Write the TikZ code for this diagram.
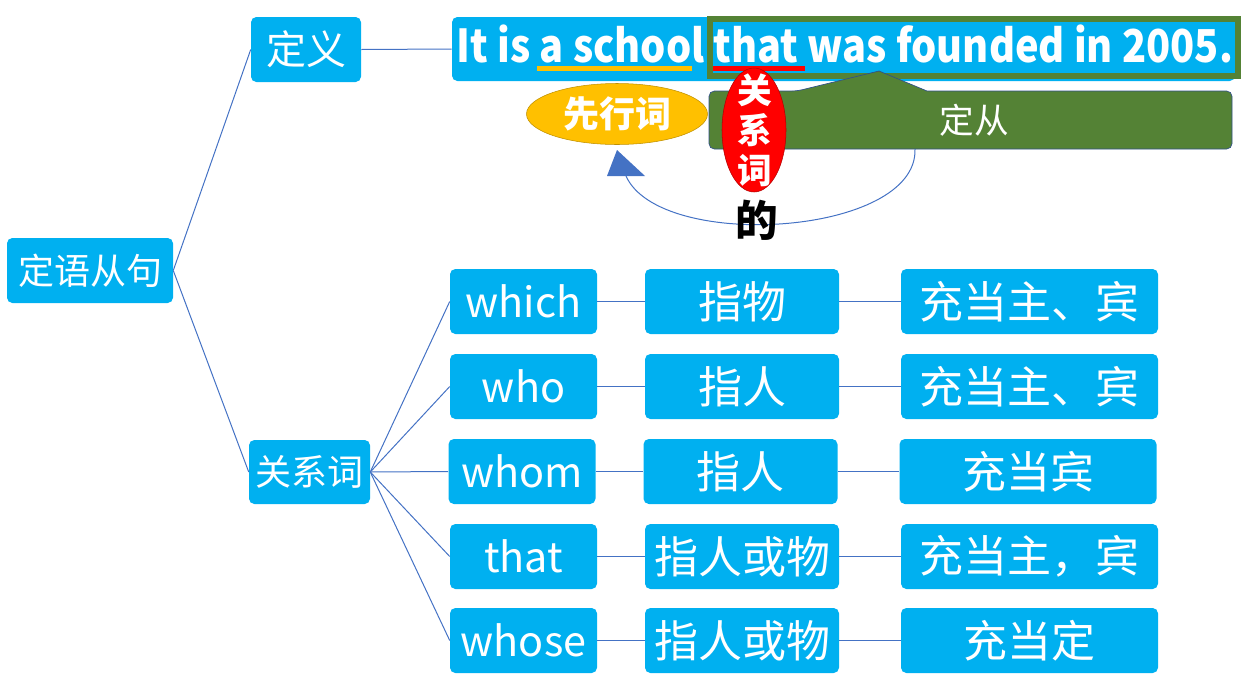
\documentclass[tikz,border=0pt]{standalone}
\usepackage{fontspec}
\setmainfont{Noto Sans CJK SC}
\usepackage{graphicx}
\usetikzlibrary{shapes.geometric}
\definecolor{boxblue}{HTML}{00B0F0}
\definecolor{linkblue}{HTML}{4472C4}
\definecolor{clausegreen}{HTML}{548235}
\definecolor{antegold}{HTML}{FFC000}
\newcommand\pxfont[1]{\fontsize{#1}{#1}\selectfont}

\tikzset{
  box/.style={fill=boxblue, text=white, rounded corners=4pt, inner sep=0pt},
  sz/.style 2 args={minimum width=#1*0.75pt, minimum height=#2*0.75pt},
  link/.style={linkblue, line width=0.75pt},
}

\begin{document}
\begin{tikzpicture}[x=0.75pt, y=-0.75pt]
	\useasboundingbox (0,0) rectangle (1246,697);

	% left tree
	\node [box, sz={166}{65}, font=\pxfont{27}] (root) at (90,270.5) {定语从句};
	\node [box, sz={110}{65}, font=\pxfont{30}] (dingyi) at (306,49.5) {定义};
	\node [box, sz={121}{64}, font=\pxfont{27}] (guanxi) at (309.5,472) {关系词};
	\node [box, sz={783}{64}] (sent) at (843.5,49) {};

	\draw [link] (root.east) -- (dingyi.west);
	\draw [link] (root.east) -- (guanxi.west);
	\draw [link] (dingyi.east) -- (sent.west);

	% table of relative words
	\foreach \n/\y/\dx/\w/\m/\r in {1/301.5/0/which/指物/充当主、宾,
		2/386.5/0/who/指人/充当主、宾, 3/471.5/-1.5/whom/指人/充当宾,
		4/556.5/0/that/指人或物/充当主，宾, 5/640.5/0/whose/指人或物/充当定}{
		\node [box, sz={147}{65}, font=\pxfont{31}] (word\n) at (523.5+\dx,\y) {\w};
		\node [box, sz={194}{65}, font=\pxfont{33}] (refer\n) at (742+\dx,\y) {\m};
		\node [box, sz={257}{65}, font=\pxfont{33}] (role\n) at (1029.5+\dx,\y) {\r};
		\draw [link] (guanxi.east) -- (word\n.west);
		\draw [link] (word\n) -- (refer\n);
		\draw [link] (refer\n) -- (role\n);
	}

	% example sentence
	\fill [antegold] (537,66) rectangle (692,71);
	\fill [red] (713,66) rectangle (805,71);
	\node [text=white, font=\pxfont{34}\bfseries, anchor=base, inner sep=0pt] (words) at (845,62)
		{\resizebox{582pt}{\height}{It is a school that was founded in 2005.}};
	\draw [clausegreen, line width=4.5pt] (709.5,18.5) rectangle (1238,76);

	\node [ellipse, fill=antegold, draw=antegold!75!black, sz={181}{61}, inner sep=0pt,
		text=white, font=\pxfont{27}\bfseries] (xianxing) at (617,114) {先行词};

	\draw [fill=clausegreen, draw=linkblue!70!black, line width=0.5pt] (709,120)
		[rounded corners=4pt] -- (709,91) -- (797,91) [sharp corners] -- (879,71) -- (927,91)
		[rounded corners=4pt] -- (1232,91) -- (1232,149) -- (709,149) -- cycle;
	\node [text=white, font=\pxfont{26}] (dingcong) at (974,120) {定从};

	% arrow back to the antecedent
	\coordinate (foot) at (915,149);
	\coordinate (tipbase) at (626,176);
	\draw [link] (foot) .. controls (918,236) and (660,252) .. (tipbase);
	\fill [linkblue] (607,176) -- (645,176) -- (617,150) -- cycle;

	\node [ellipse, fill=red, draw=red!70!black, sz={64}{124}, inner sep=0pt] (rel) at (754,130) {};
	\node [text=white, align=center, inner sep=0pt, font=\pxfont{26}\bfseries] (reltext) at (755,130)
		{关\\[4pt]系\\[4pt]词};
	\node [font=\pxfont{32}\bfseries] (de) at (757,220) {的};
\end{tikzpicture}
\end{document}
